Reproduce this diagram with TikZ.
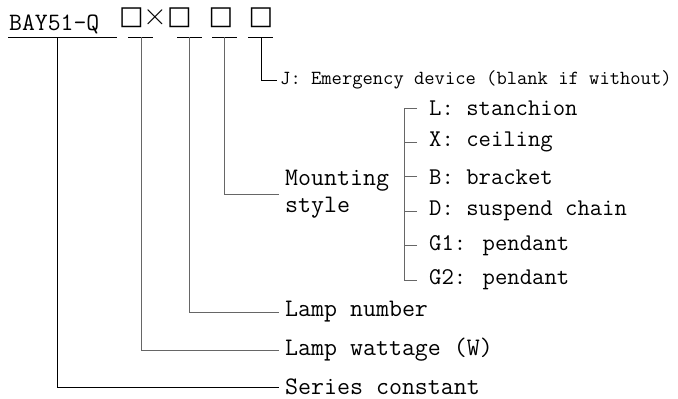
\documentclass[tikz,border=0pt]{standalone}
\usepackage{fontspec}
\newfontfamily\symfont{DejaVu Sans}
\usetikzlibrary{positioning}

\tikzset{
  lead/.style={draw=black, line width=0.8pt},
  leadgray/.style={draw=black!60, line width=0.9pt},
  lbl/.style={anchor=west, inner xsep=6pt, inner ysep=0pt, font=\ttfamily\fontsize{25.2}{27.5}\selectfont},
  opt/.style={anchor=west, inner xsep=12pt, inner ysep=0pt, font=\ttfamily\fontsize{24}{26}\selectfont},
  slot/.style={inner sep=0pt, font=\symfont\fontsize{26}{26}\selectfont}
}

\begin{document}
\begin{tikzpicture}[x=1pt,y=-1pt,node distance=34.4pt]
  \useasboundingbox (0,0) rectangle (678,399);

  % model code with its blanks
  \node[anchor=base west, inner sep=0pt, font=\ttfamily\fontsize{25}{25}\selectfont] (code) at (9,30) {BAY51-Q};
  \node[slot] (s1) at (131.5,17.5) {□};
  \node[inner sep=0pt, font=\rmfamily\fontsize{33}{33}\selectfont] (times) at (155,18) {×};
  \node[slot] (s2) at (179.5,17.5) {□};
  \node[slot] (s3) at (221,17.5) {□};
  \node[slot] (s4) at (261,17.5) {□};

  \draw[lead] (8,37) -- (117,37);
  \draw[lead] (128,37) -- (153,37);
  \draw[lead] (177,37) -- (202,37);
  \draw[lead] (212,37) -- (237,37);
  \draw[lead] (248,37) -- (273,37);

  \coordinate (c0) at (57,37);
  \coordinate (c1) at (141,37);
  \coordinate (c2) at (189,37);
  \coordinate (c3) at (224,37);
  \coordinate (c4) at (261,37);

  % meanings
  \node[lbl, font=\ttfamily\fontsize{20}{21}\selectfont, inner xsep=3pt] (emerg) at (277,80) {J: Emergency device (blank if without)};
  \node[lbl, align=left] (mount) at (279,194) {Mounting\\style};
  \node[lbl] (num) at (279,312) {Lamp number};
  \node[lbl] (watt) at (279,350) {Lamp wattage (W)};
  \node[lbl] (series) at (279,387) {Series constant};

  % mounting options
  \node[opt] (mL) at (417,108) {L: stanchion};
  \node[opt, below=of mL.west, anchor=west] (mX) {X: ceiling};
  \node[opt, below=of mX.west, anchor=west] (mB) {B: bracket};
  \node[opt, below=of mB.west, anchor=west] (mD) {D: suspend chain};
  \node[opt, below=of mD.west, anchor=west] (mG1) {G1: pendant};
  \node[opt, below=of mG1.west, anchor=west] (mG2) {G2: pendant};

  \draw[lead] (c0) |- (series.west);
  \draw[leadgray] (c1) |- (watt.west);
  \draw[leadgray] (c2) |- (num.west);
  \draw[leadgray] (c3) |- (mount.west);
  \draw[lead] (c4) |- (emerg.west);

  \draw[leadgray] (mL.west) -- ++(-13,0) |- (mG2.west);
  \foreach \m in {mX,mB,mD,mG1}
    \draw[leadgray] (\m.west) -- ++(-13,0);
\end{tikzpicture}
\end{document}
